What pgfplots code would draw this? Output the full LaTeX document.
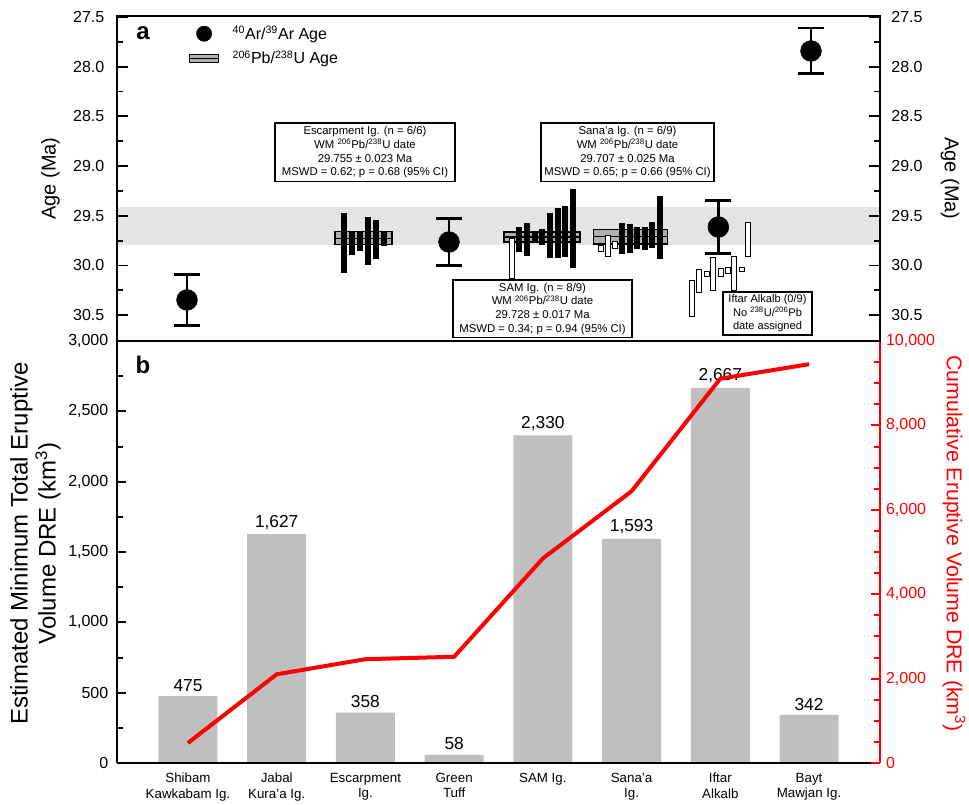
\documentclass[border=0pt]{standalone}
\usepackage{pgfplots}
\usepackage{pgfplotstable}
\pgfplotsset{compat=1.18}
\usepackage{fontspec}
\setmainfont{Liberation Sans}
\definecolor{bandgray}{RGB}{228,228,228}
\definecolor{bargray}{RGB}{191,191,191}
\definecolor{wmgray}{RGB}{175,175,175}

\pgfplotstableread{
x y e
1.759 29.777 0.302
1.849 29.777 0.117
1.939 29.757 0.097
2.029 29.755 0.240
2.119 29.740 0.198
2.209 29.734 0.067
3.735 29.735 0.126
3.825 29.736 0.168
3.911 29.722 0.050
3.994 29.713 0.080
4.081 29.698 0.228
4.167 29.675 0.251
4.253 29.660 0.256
4.336 29.627 0.399
4.888 29.727 0.157
4.982 29.728 0.143
5.065 29.726 0.111
5.151 29.730 0.114
5.234 29.693 0.134
5.320 29.620 0.318
}\blackbars

\pgfplotstableread{
x y e ei
3.656 29.930 0.206 0.196
4.652 29.829 0.037 0.027
4.731 29.803 0.114 0.104
4.813 29.793 0.042 0.032
5.685 30.334 0.188 0.178
5.763 30.155 0.119 0.109
5.847 30.084 0.029 0.019
5.921 30.085 0.173 0.163
6.005 30.067 0.045 0.035
6.083 30.050 0.038 0.028
6.158 30.081 0.176 0.166
6.241 30.037 0.025 0.015
6.316 29.739 0.176 0.166
}\whitebars

\pgfplotstableread{
x y e
-0.011 30.347 0.256
2.942 29.764 0.237
5.978 29.613 0.265
7.022 27.842 0.231
}\arages

\pgfplotstableread{
x vol
0 475
1 1627
2 358
3 58
4 2330
5 1593
6 2667
7 342
}\volumes

\pgfplotstableread{
x cum
0 475
1 2102
2 2460
3 2518
4 4848
5 6441
6 9108
7 9450
}\cumul

\begin{document}
\begin{tikzpicture}
\useasboundingbox (0,0) rectangle (726.75pt,603pt);

%================ bottom panel (left axis, bars)
\begin{axis}[
  at={(87.75pt,30.75pt)}, anchor=south west,
  width=572.25pt, height=316.5pt, scale only axis,
  xmin=-0.8, xmax=7.8, ymin=0, ymax=3000,
  axis x line*=bottom, axis y line*=left,
  axis line style={line width=2.2pt, -},
  axis on top,
  xtick={0,...,7},
  xticklabels={{Shibam\\Kawkabam Ig.},{Jabal\\Kura’a Ig.},{Escarpment\\Ig.},{Green\\Tuff},{SAM Ig.},{Sana’a\\Ig.},{Iftar\\Alkalb},{Bayt\\Mawjan Ig.}},
  xticklabel style={align=center, font=\fontsize{10}{11.5}\selectfont, anchor=north, yshift=-4pt},
  x tick style={draw=none},
  ytick={0,500,1000,1500,2000,2500,3000},
  minor y tick num=1,
  y tick style={line width=1.5pt, black},
  major tick length=7pt, minor tick length=4.5pt,
  tick align=inside,
  scaled y ticks=false,
  yticklabel style={font=\fontsize{12}{14}\selectfont, xshift=-3pt},
  /pgf/number format/1000 sep={,},
  /pgf/number format/assume math mode=true,
  every axis y label/.style={at={(axis description cs:-0.107,0.52)}, rotate=90, anchor=center, align=center, font=\fontsize{18}{21}\selectfont},
  ylabel={Estimated Minimum Total Eruptive\\Volume DRE (km\textsuperscript{3})},
]
\addplot[ybar, bar width=44.25pt, fill=bargray, draw=none,
  nodes near coords,
  every node near coord/.append style={font=\fontsize{13}{15}\selectfont, black}]
  table[x=x, y=vol] {\volumes};
\node[font=\bfseries\fontsize{18}{20}\selectfont] at (axis description cs:0.034,0.943) {b};
\end{axis}

%================ bottom panel (right axis, cumulative line)
\begin{axis}[
  at={(87.75pt,30.75pt)}, anchor=south west,
  width=572.25pt, height=316.5pt, scale only axis,
  xmin=-0.8, xmax=7.8, ymin=0, ymax=10000,
  axis x line=none, axis y line*=right,
  axis line style={line width=2.2pt, red, -},
  ytick={0,2000,4000,6000,8000,10000},
  minor y tick num=3,
  y tick style={line width=1.5pt, red},
  major tick length=7pt, minor tick length=4.5pt,
  tick align=inside,
  scaled y ticks=false,
  yticklabel style={font=\fontsize{12}{14}\selectfont, red, xshift=1pt},
  /pgf/number format/1000 sep={,},
  /pgf/number format/assume math mode=true,
  every axis y label/.style={at={(axis description cs:1.097,0.52)}, rotate=-90, anchor=center, font=\fontsize{16}{19}\selectfont, red},
  ylabel={Cumulative Eruptive Volume DRE (km\textsuperscript{3})},
]
\addplot[red, line width=3pt, line join=round, mark=none] table[x=x, y=cum] {\cumul};
\end{axis}

%================ top panel
\begin{axis}[
  at={(87.75pt,347.25pt)}, anchor=south west,
  width=572.25pt, height=243.75pt, scale only axis,
  xmin=-0.8, xmax=7.8, ymin=27.49, ymax=30.76, y dir=reverse,
  axis on top,
  xtick=\empty,
  ytick={27.5,28.0,28.5,29.0,29.5,30.0,30.5},
  minor y tick num=1,
  axis line style={line width=1.5pt},
  y tick style={line width=1.4pt, black},
  major tick length=8pt, minor tick length=4.5pt,
  tick align=inside,
  yticklabel style={font=\fontsize{12}{14}\selectfont, xshift=-6pt},
  /pgf/number format/fixed, /pgf/number format/fixed zerofill,
  /pgf/number format/precision=1,
  /pgf/number format/assume math mode=true,
  every axis y label/.style={at={(axis description cs:-0.0872,0.5)}, rotate=90, anchor=center, font=\fontsize{15}{18}\selectfont},
  ylabel={Age (Ma)},
  legend style={at={(axis description cs:0.094,0.978)}, anchor=north west, draw=none, fill=none, inner sep=0pt,
    font=\fontsize{12}{14}\selectfont, row sep=3pt},
  legend cell align=left,
]
\addlegendimage{legend image code/.code={\fill[black] (0pt,0pt) circle (5.7pt);}}
\addlegendentry{\hspace{8pt}\textsuperscript{40}Ar/\textsuperscript{39}Ar Age}
\addlegendimage{legend image code/.code={\draw[fill=wmgray, line width=0.9pt] (-10.9pt,-3pt) rectangle (10.9pt,3pt); \draw[line width=0.9pt] (-10.9pt,0pt) -- (10.9pt,0pt);}}
\addlegendentry{\hspace{8pt}\textsuperscript{206}Pb/\textsuperscript{238}U Age}

% grey band
\addplot[forget plot, fill=bandgray, draw=none] coordinates {(-0.8,29.41) (7.8,29.41) (7.8,29.79) (-0.8,29.79)} -- cycle;

% weighted mean rectangles
\addplot[forget plot, fill=wmgray, draw=black, line width=0.9pt] coordinates {(1.657,29.661) (2.300,29.661) (2.300,29.793) (1.657,29.793)} -- cycle;
\addplot[forget plot, black, line width=0.9pt] coordinates {(1.657,29.727) (2.300,29.727)};
\addplot[forget plot, fill=wmgray, draw=black, line width=0.9pt] coordinates {(3.562,29.663) (4.419,29.663) (4.419,29.763) (3.562,29.763)} -- cycle;
\addplot[forget plot, black, line width=0.9pt] coordinates {(3.562,29.713) (4.419,29.713)};
\addplot[forget plot, fill=wmgray, draw=black, line width=0.9pt] coordinates {(4.569,29.636) (5.403,29.636) (5.403,29.783) (4.569,29.783)} -- cycle;
\addplot[forget plot, black, line width=0.9pt] coordinates {(4.569,29.710) (5.403,29.710)};

% open (rejected) zircon bars
\addplot[forget plot, draw=none, mark=none,
  error bars/.cd, y dir=both, y explicit, error mark=none,
  error bar style={draw=black, solid, line width=4.7pt}]
  table[x=x, y=y, y error=e] {\whitebars};
\addplot[forget plot, draw=none, mark=none,
  error bars/.cd, y dir=both, y explicit, error mark=none,
  error bar style={draw=white, solid, line width=3.1pt}]
  table[x=x, y=y, y error=ei] {\whitebars};

% black zircon bars
\addplot[forget plot, draw=none, mark=none,
  error bars/.cd, y dir=both, y explicit, error mark=none,
  error bar style={draw=black, solid, line width=4.3pt}]
  table[x=x, y=y, y error=e] {\blackbars};

% Ar/Ar ages
\addplot[forget plot, only marks, mark=*, mark size=7.8pt, black,
  error bars/.cd, y dir=both, y explicit,
  error bar style={draw=black, solid, line width=2.2pt},
  error mark options={rotate=90, black, line width=2.2pt, mark size=9.75pt}]
  table[x=x, y=y, y error=e] {\arages};

% annotation boxes
\node[draw=black, line width=1.2pt, fill=white, align=center, font=\fontsize{8.5}{10.3}\selectfont,
  minimum width=135pt, minimum height=44pt, inner xsep=2pt, inner ysep=2pt]
  at (axis cs:1.995,28.861) {Escarpment Ig. (n = 6/6)\\WM \textsuperscript{206}Pb/\textsuperscript{238}U date\\29.755 ± 0.023 Ma\\MSWD = 0.62; p = 0.68 (95\% CI)};
\node[draw=black, line width=1.2pt, fill=white, align=center, font=\fontsize{8.5}{10.3}\selectfont,
  minimum width=130pt, minimum height=44pt, inner xsep=2pt, inner ysep=2pt]
  at (axis cs:4.954,28.861) {Sana’a Ig. (n = 6/9)\\WM \textsuperscript{206}Pb/\textsuperscript{238}U date\\29.707 ± 0.025 Ma\\MSWD = 0.65; p = 0.66 (95\% CI)};
\node[draw=black, line width=1.2pt, fill=white, align=center, font=\fontsize{8.5}{10.3}\selectfont,
  minimum width=134pt, minimum height=42pt, inner xsep=2pt, inner ysep=2pt]
  at (axis cs:3.996,30.436) {SAM Ig. (n = 8/9)\\WM \textsuperscript{206}Pb/\textsuperscript{238}U date\\29.728 ± 0.017 Ma\\MSWD = 0.34; p = 0.94 (95\% CI)};
\node[draw=black, line width=1.2pt, fill=white, align=center, font=\fontsize{8.3}{10}\selectfont,
  minimum width=66.75pt, minimum height=32.25pt, inner xsep=2pt, inner ysep=1.5pt]
  at (axis cs:6.532,30.481) {Iftar Alkalb (0/9)\\No \textsuperscript{238}U/\textsuperscript{206}Pb\\date assigned};

\node[font=\bfseries\fontsize{18}{20}\selectfont] at (axis description cs:0.034,0.948) {a};
\end{axis}

% top panel right-hand labels
\begin{axis}[
  at={(87.75pt,347.25pt)}, anchor=south west,
  width=572.25pt, height=243.75pt, scale only axis,
  xmin=-0.8, xmax=7.8, ymin=27.49, ymax=30.76, y dir=reverse,
  axis x line=none, axis y line*=right,
  axis line style={draw=none},
  ytick={27.5,28.0,28.5,29.0,29.5,30.0,30.5},
  y tick style={draw=none},
  yticklabel style={font=\fontsize{12}{14}\selectfont, xshift=5pt},
  /pgf/number format/fixed, /pgf/number format/fixed zerofill,
  /pgf/number format/precision=1,
  /pgf/number format/assume math mode=true,
  every axis y label/.style={at={(axis description cs:1.0917,0.5)}, rotate=-90, anchor=center, font=\fontsize{15}{18}\selectfont},
  ylabel={Age (Ma)},
]
\end{axis}
\end{tikzpicture}
\end{document}
